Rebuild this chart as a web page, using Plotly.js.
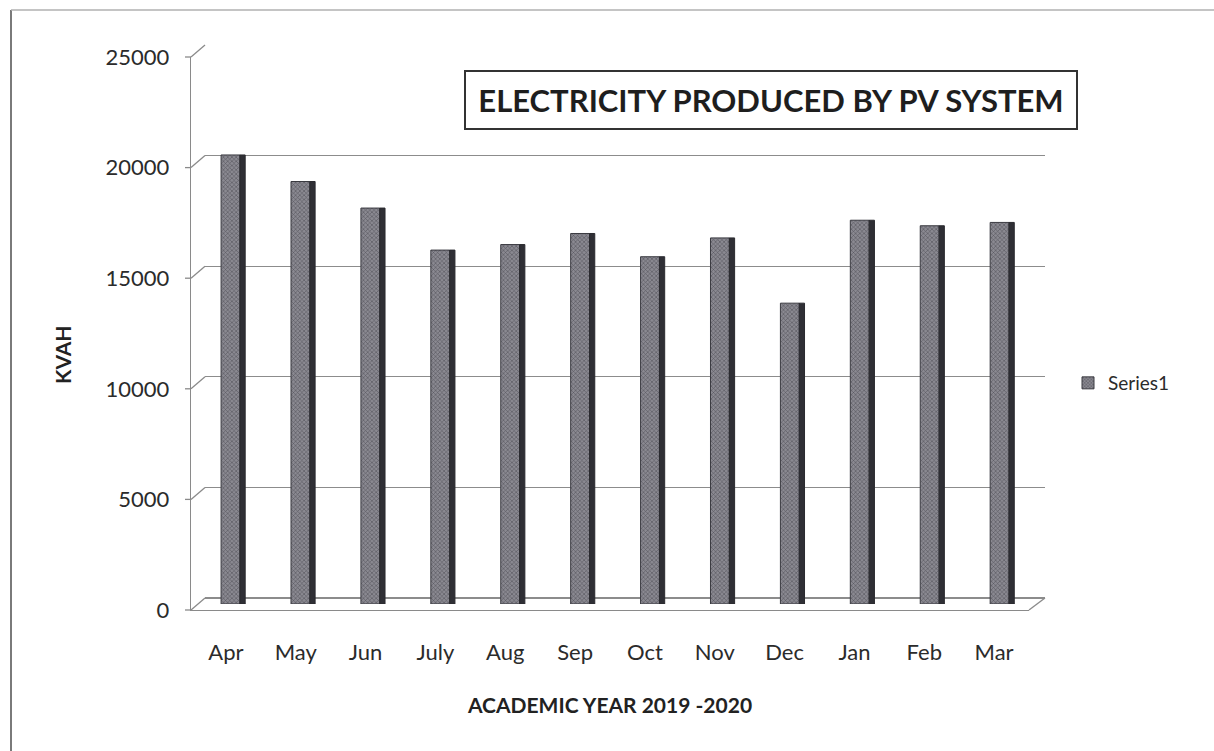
<!DOCTYPE html>
<html>
<head>
<meta charset="utf-8">
<script src="https://cdn.plot.ly/plotly-3.0.1.min.js"></script>
<style>
  html, body { margin: 0; padding: 0; background: #ffffff; }
  #chart { width: 1214px; height: 751px; }
</style>
</head>
<body>
<div id="chart"></div>
<script>
// ---- data ----
const months = ["Apr", "May", "Jun", "July", "Aug", "Sep", "Oct", "Nov", "Dec", "Jan", "Feb", "Mar"];
const kvah = [20300, 19100, 17900, 16000, 16250, 16750, 15700, 16550, 13600, 17350, 17100, 17250];
const yTicks = [0, 5000, 10000, 15000, 20000, 25000];
const yTickText = ["0", "5000", "10000", "15000", "20000", "25000"];
const seriesName = "Series1";
const chartTitle = "ELECTRICITY PRODUCED BY PV SYSTEM";
const xTitle = "ACADEMIC YEAR 2019 -2020";
const yTitle = "KVAH";

// ---- geometry helpers (pixel -> paper) ----
const W = 1214, H = 751;
const PX = p => p / W;
const PY = p => 1 - p / H;

// front plane (tick labels), back wall (gridlines), middle (bars)
const front = { l: 191, r: 1029, t: 57, b: 610 };
const back  = { l: 205, r: 1045, t: 45, b: 598 };
const mid   = { l: 198, r: 1037, t: 51, b: 604 };
const yMax = 25000;

const font = "Lato, 'Open Sans', 'DejaVu Sans', sans-serif";

const hidden = { color: "rgba(0,0,0,0)", line: { width: 0 } };

const traces = [
  // invisible carriers so the front and back axes are drawn
  { type: "bar", x: months, y: kvah, xaxis: "x", yaxis: "y", marker: hidden,
    showlegend: false, hoverinfo: "skip" },
  { type: "bar", x: months, y: kvah, xaxis: "x2", yaxis: "y2", marker: hidden,
    showlegend: false, hoverinfo: "skip" },
  {
    type: "bar", name: seriesName, x: months, y: kvah,
    xaxis: "x3", yaxis: "y3",
    width: 0.27, offset: -0.17,
    marker: {
      color: "#7f7e86",
      line: { color: "#3a3a40", width: 1 },
      pattern: { shape: "x", fgcolor: "#55545c", bgcolor: "#8a8991", size: 3, solidity: 0.35 }
    },
    hoverinfo: "x+y"
  },
  {
    type: "bar", name: seriesName + " side", x: months, y: kvah,
    xaxis: "x3", yaxis: "y3",
    width: 0.075, offset: 0.10,
    marker: { color: "#2f2f35", line: { color: "#2a2a2f", width: 1 } },
    showlegend: false, hoverinfo: "skip"
  }
];

// 3D frame decorations: floor + diagonal connectors from front ticks to back gridlines
const shapes = [];
const lineStyle = { color: "#8a8a8a", width: 1.3 };
yTicks.forEach(v => {
  const yf = front.b - (front.b - front.t) * v / yMax;
  const yb = back.b - (back.b - back.t) * v / yMax;
  shapes.push({ type: "line", xref: "paper", yref: "paper",
    x0: PX(front.l), y0: PY(yf), x1: PX(back.l), y1: PY(yb), line: lineStyle });
  shapes.push({ type: "line", xref: "paper", yref: "paper",
    x0: PX(front.l - 6), y0: PY(yf), x1: PX(front.l), y1: PY(yf), line: lineStyle });
});
// floor right edge
shapes.push({ type: "line", xref: "paper", yref: "paper",
  x0: PX(front.r), y0: PY(front.b), x1: PX(back.r), y1: PY(back.b), line: lineStyle });
// outer chart border (left and top)
shapes.push({ type: "line", xref: "paper", yref: "paper",
  x0: PX(11), y0: PY(10), x1: PX(11), y1: 0, line: { color: "#7a7a7a", width: 2 } });
shapes.push({ type: "line", xref: "paper", yref: "paper",
  x0: PX(11), y0: PY(10), x1: 1, y1: PY(10), line: { color: "#b0b0b0", width: 1.5 } });

const layout = {
  width: W, height: H,
  margin: { l: 0, r: 0, t: 0, b: 0 },
  paper_bgcolor: "#ffffff", plot_bgcolor: "rgba(0,0,0,0)",
  barmode: "overlay",
  showlegend: true,
  font: { family: font, size: 22, color: "#2b2b2b" },
  // front plane: labels
  xaxis: {
    domain: [PX(front.l), PX(front.r)],
    anchor: "y",
    type: "category", categoryorder: "array", categoryarray: months,
    range: [-0.5, months.length - 0.5],
    showline: true, linecolor: "#8a8a8a", linewidth: 1.3,
    showgrid: false, zeroline: false, ticks: "",
    ticklabelstandoff: 22,
    tickfont: { family: font, size: 22, color: "#2b2b2b" },
    title: { text: "<b>" + xTitle + "</b>", standoff: 34,
             font: { family: font, size: 21, color: "#222" } },
    fixedrange: true
  },
  yaxis: {
    domain: [PY(front.b), PY(front.t)],
    anchor: "x",
    range: [0, yMax], tickvals: yTicks, ticktext: yTickText,
    showline: true, linecolor: "#8a8a8a", linewidth: 1.3,
    showgrid: false, zeroline: false, ticks: "",
    ticklabelstandoff: 16,
    tickfont: { family: font, size: 22, color: "#2b2b2b" },
    fixedrange: true
  },
  // back wall: gridlines
  xaxis2: {
    domain: [PX(back.l), PX(back.r)], anchor: "y2",
    type: "category", categoryorder: "array", categoryarray: months,
    range: [-0.5, months.length - 0.5],
    showticklabels: false, showgrid: false, zeroline: false, showline: false, ticks: "",
    fixedrange: true
  },
  yaxis2: {
    domain: [PY(back.b), PY(back.t)], anchor: "x2",
    range: [0, yMax], tickvals: yTicks,
    showticklabels: false, showgrid: true, gridcolor: "#8c8c8c", gridwidth: 1.3,
    zeroline: true, zerolinecolor: "#8c8c8c", zerolinewidth: 1.3,
    showline: false, ticks: "", fixedrange: true
  },
  // middle depth: bars
  xaxis3: {
    domain: [PX(mid.l), PX(mid.r)], anchor: "y3",
    type: "category", categoryorder: "array", categoryarray: months,
    range: [-0.5, months.length - 0.5],
    showticklabels: false, showgrid: false, zeroline: false, showline: false, ticks: "",
    fixedrange: true
  },
  yaxis3: {
    domain: [PY(mid.b), PY(mid.t)], anchor: "x3",
    range: [0, yMax],
    showticklabels: false, showgrid: false, zeroline: false, showline: false, ticks: "",
    fixedrange: true
  },
  legend: {
    x: PX(1068), y: PY(383), xanchor: "left", yanchor: "middle",
    font: { family: font, size: 19, color: "#2b2b2b" },
    bgcolor: "rgba(0,0,0,0)", itemwidth: 30
  },
  shapes: shapes,
  annotations: [
    {
      text: "<b>" + chartTitle + "</b>",
      xref: "paper", yref: "paper",
      x: PX(771), y: PY(100), xanchor: "center", yanchor: "middle",
      showarrow: false,
      font: { family: font, size: 31, color: "#1e1e1e" },
      bordercolor: "#333", borderwidth: 2, borderpad: 0,
      width: 610, height: 56, bgcolor: "#ffffff"
    },
    {
      text: "<b>" + yTitle + "</b>",
      xref: "paper", yref: "paper",
      x: PX(62), y: PY(355), xanchor: "center", yanchor: "middle",
      textangle: -90, showarrow: false,
      font: { family: font, size: 21, color: "#222" }
    }
  ]
};

Plotly.newPlot("chart", traces, layout, { displayModeBar: false, staticPlot: true });
</script>
</body>
</html>
